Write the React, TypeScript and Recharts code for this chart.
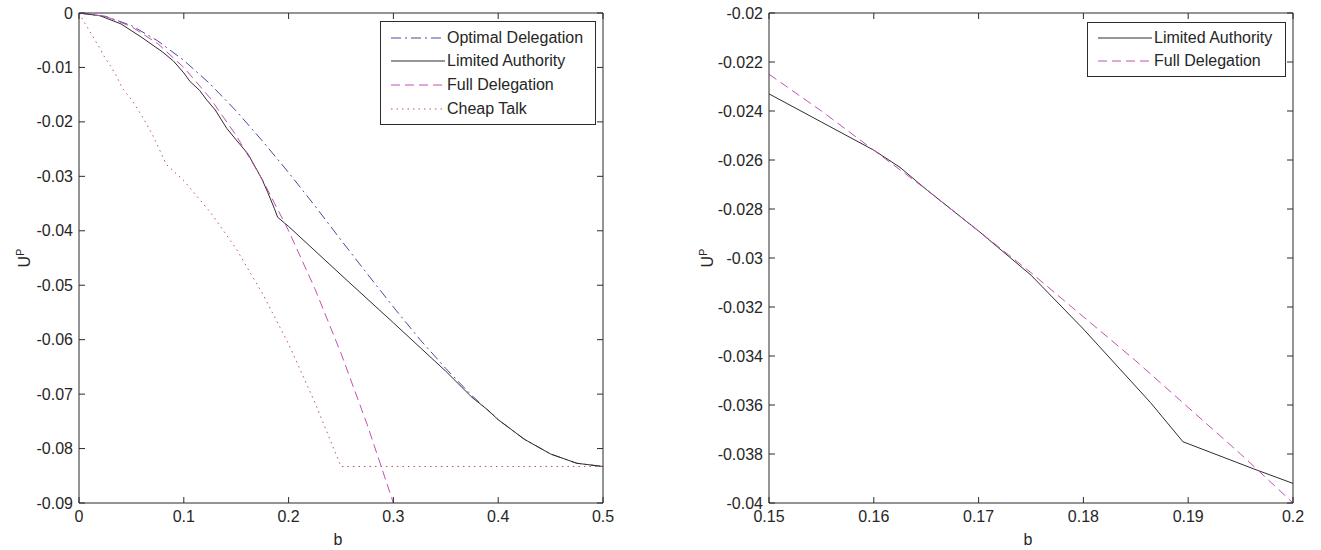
import React from 'react';
import { LineChart, Line, XAxis, YAxis, Legend } from 'recharts';

const FONT = '"Liberation Sans", Arial, Helvetica, sans-serif';
const AXIS = '#2b2b2b';
const TEXT = '#262626';
const TICK = 6;

const BLUE = '#4a4a9c';
const BLACK = '#2e2e2e';
const PINK = '#c54fb4';
const RED = '#c0506f';

// ---- left panel: b in [0, 0.5]
const leftXTicks = [0, 0.1, 0.2, 0.3, 0.4, 0.5];
const leftYTicks = [0, -0.01, -0.02, -0.03, -0.04, -0.05, -0.06, -0.07, -0.08, -0.09];

const optimalB = [0, 0.025, 0.05, 0.075, 0.1, 0.125, 0.15, 0.175, 0.2, 0.225, 0.25, 0.275, 0.3, 0.325, 0.35, 0.375, 0.4, 0.425, 0.45, 0.475, 0.5];
const optimalU = [0, -0.0006, -0.0023, -0.0051, -0.0087, -0.013, -0.018, -0.0235, -0.0293, -0.0354, -0.0417, -0.0479, -0.054, -0.0599, -0.0653, -0.0703, -0.0747, -0.0783, -0.081, -0.0827, -0.0833];

const limitedB = [0, 0.02, 0.04, 0.06, 0.08, 0.09, 0.1, 0.106, 0.115, 0.122, 0.13, 0.141, 0.15, 0.155, 0.16, 0.1625, 0.165, 0.17, 0.175, 0.18, 0.1864, 0.1895, 0.1962, 0.2, 0.25, 0.3, 0.35, 0.375, 0.39, 0.4, 0.425, 0.45, 0.475, 0.5];
const limitedU = [0, -0.0005, -0.002, -0.0045, -0.0072, -0.0088, -0.011, -0.0126, -0.0142, -0.016, -0.0178, -0.0212, -0.0233, -0.02445, -0.0256, -0.0263, -0.0272, -0.0289, -0.0307, -0.0329, -0.0359, -0.0375, -0.0386, -0.0392, -0.0481, -0.0569, -0.0658, -0.0706, -0.0729, -0.0747, -0.0783, -0.081, -0.0827, -0.0833];

const fullB = [0, 0.025, 0.05, 0.075, 0.1, 0.125, 0.15, 0.175, 0.2, 0.225, 0.25, 0.275, 0.3];
const fullU = [0, -0.0006, -0.0025, -0.0056, -0.01, -0.0156, -0.0225, -0.0306, -0.04, -0.0506, -0.0625, -0.0756, -0.09];

const cheapB = [0, 0.005, 0.01, 0.015, 0.02, 0.025, 0.03, 0.035, 0.0417, 0.05, 0.06, 0.07, 0.0833, 0.1, 0.125, 0.15, 0.175, 0.2, 0.225, 0.25, 0.5];
const cheapU = [0, -0.0017, -0.0033, -0.0049, -0.0065, -0.0083, -0.0097, -0.0113, -0.0139, -0.0159, -0.0189, -0.0223, -0.0278, -0.0308, -0.0365, -0.0433, -0.0515, -0.0608, -0.0715, -0.0833, -0.0833];

// ---- right panel: zoom on b in [0.15, 0.2]
const rightXTicks = [0.15, 0.16, 0.17, 0.18, 0.19, 0.2];
const rightYTicks = [-0.02, -0.022, -0.024, -0.026, -0.028, -0.03, -0.032, -0.034, -0.036, -0.038, -0.04];

const zoomLimitedB = [0.15, 0.155, 0.16, 0.1625, 0.165, 0.17, 0.175, 0.18, 0.1864, 0.1895, 0.1962, 0.2];
const zoomLimitedU = [-0.0233, -0.02445, -0.0256, -0.0263, -0.0272, -0.0289, -0.0307, -0.0329, -0.0359, -0.0375, -0.0386, -0.0392];

const zoomFullB = [0.15, 0.155, 0.16, 0.165, 0.17, 0.175, 0.18, 0.185, 0.19, 0.195, 0.2];
const zoomFullU = [-0.0225, -0.024, -0.0256, -0.0272, -0.0289, -0.0306, -0.0324, -0.0342, -0.0361, -0.038, -0.04];

const zip = (b: number[], u: number[]) => b.map((v, i) => ({ b: v, u: u[i] }));

type Series = { name: string; color: string; dash?: string; data: { b: number; u: number }[] };

const leftSeries: Series[] = [
  { name: 'Optimal Delegation', color: BLUE, dash: '10 4 2 4', data: zip(optimalB, optimalU) },
  { name: 'Limited Authority', color: BLACK, data: zip(limitedB, limitedU) },
  { name: 'Full Delegation', color: PINK, dash: '9 5', data: zip(fullB, fullU) },
  { name: 'Cheap Talk', color: RED, dash: '1.5 4', data: zip(cheapB, cheapU) },
];

const rightSeries: Series[] = [
  { name: 'Limited Authority', color: BLACK, data: zip(zoomLimitedB, zoomLimitedU) },
  { name: 'Full Delegation', color: PINK, dash: '9 5', data: zip(zoomFullB, zoomFullU) },
];

const label = (v: number) => String(v);

// axes are 1px boxes; ticks are drawn inward like a MATLAB box
const BottomTick = ({ x, y, payload }: any) => (
  <g>
    <line x1={x} x2={x} y1={y} y2={y - TICK} stroke={AXIS} />
    <text x={x} y={y + 19} textAnchor="middle" fontSize={16} fontFamily={FONT} fill={TEXT}>
      {label(payload.value)}
    </text>
  </g>
);

const LeftTick = ({ x, y, payload }: any) => (
  <g>
    <line x1={x} x2={x + TICK} y1={y} y2={y} stroke={AXIS} />
    <text x={x - 6} y={y + 5.5} textAnchor="end" fontSize={16} fontFamily={FONT} fill={TEXT}>
      {label(payload.value)}
    </text>
  </g>
);

const TopTick = ({ x, y }: any) => <line x1={x} x2={x} y1={y} y2={y + TICK} stroke={AXIS} />;
const RightTick = ({ x, y }: any) => <line x1={x} x2={x - TICK} y1={y} y2={y} stroke={AXIS} />;

const XLabel = ({ viewBox }: any) => (
  <text x={viewBox.x + viewBox.width / 2 - 3} y={viewBox.y + 42} textAnchor="middle" fontSize={16} fontFamily={FONT} fill={TEXT}>
    b
  </text>
);

const YLabel = ({ viewBox, dx }: any) => {
  const cx = viewBox.x - dx;
  const cy = viewBox.y + viewBox.height / 2;
  return (
    <text x={cx} y={cy} transform={`rotate(-90, ${cx}, ${cy})`} textAnchor="middle" fontSize={16} fontFamily={FONT} fill={TEXT}>
      U<tspan dy={-6} fontSize={11}>P</tspan>
    </text>
  );
};

const LegendBox = ({ items, width, top, row }: { items: Series[]; width: number; top: number; row: number }) => (
  <div
    style={{
      width,
      boxSizing: 'border-box',
      border: `1px solid ${AXIS}`,
      background: '#fff',
      paddingTop: top,
      paddingBottom: top,
      fontFamily: FONT,
      fontSize: 16,
      color: TEXT,
    }}
  >
    {items.map((s) => (
      <div key={s.name} style={{ display: 'flex', alignItems: 'center', height: row, whiteSpace: 'nowrap' }}>
        <svg width={66} height={10} style={{ flex: 'none' }}>
          <line x1={10} x2={64} y1={5} y2={5} stroke={s.color} strokeWidth={1} strokeDasharray={s.dash} />
        </svg>
        <span>{s.name}</span>
      </div>
    ))}
  </div>
);

type PanelProps = {
  width: number;
  margin: { top: number; right: number; bottom: number; left: number };
  xDomain: [number, number];
  yDomain: [number, number];
  xTicks: number[];
  yTicks: number[];
  series: Series[];
  legendPos: { left: number; top: number; width: number; pad: number; row: number };
  yLabelDx: number;
};

const Panel = ({ width, margin, xDomain, yDomain, xTicks, yTicks, series, legendPos, yLabelDx }: PanelProps) => (
  <LineChart width={width} height={550} margin={margin}>
    <XAxis
      xAxisId={0}
      dataKey="b"
      type="number"
      domain={xDomain}
      ticks={xTicks}
      interval={0}
      height={1}
      tickSize={0}
      tickMargin={0}
      tickLine={false}
      axisLine={{ stroke: AXIS }}
      tick={(p: any) => <BottomTick {...p} />}
      allowDataOverflow
      label={{ content: (p: any) => <XLabel {...p} /> }}
    />
    <XAxis
      xAxisId="top"
      orientation="top"
      dataKey="b"
      type="number"
      domain={xDomain}
      ticks={xTicks}
      interval={0}
      height={1}
      tickSize={0}
      tickMargin={0}
      tickLine={false}
      axisLine={{ stroke: AXIS }}
      tick={(p: any) => <TopTick {...p} />}
      allowDataOverflow
    />
    <YAxis
      yAxisId={0}
      type="number"
      domain={yDomain}
      ticks={yTicks}
      interval={0}
      width={1}
      tickSize={0}
      tickMargin={0}
      tickLine={false}
      axisLine={{ stroke: AXIS }}
      tick={(p: any) => <LeftTick {...p} />}
      allowDataOverflow
      label={{ content: (p: any) => <YLabel {...p} dx={yLabelDx} /> }}
    />
    <YAxis
      yAxisId="right"
      orientation="right"
      type="number"
      domain={yDomain}
      ticks={yTicks}
      interval={0}
      width={1}
      tickSize={0}
      tickMargin={0}
      tickLine={false}
      axisLine={{ stroke: AXIS }}
      tick={(p: any) => <RightTick {...p} />}
      allowDataOverflow
    />
    {series.map((s) => (
      <Line
        key={s.name}
        xAxisId={0}
        yAxisId={0}
        data={s.data}
        dataKey="u"
        name={s.name}
        type="linear"
        stroke={s.color}
        strokeWidth={1}
        strokeDasharray={s.dash}
        dot={false}
        activeDot={false}
        isAnimationActive={false}
      />
    ))}
    <Legend
      layout="vertical"
      align="center"
      verticalAlign="middle"
      wrapperStyle={{ left: legendPos.left, top: legendPos.top, width: legendPos.width }}
      content={() => <LegendBox items={series} width={legendPos.width} top={legendPos.pad} row={legendPos.row} />}
    />
  </LineChart>
);

export default function App() {
  return (
    <div style={{ position: 'absolute', left: 0, top: 0, width: 1321, height: 550, background: '#fff' }}>
      <div style={{ position: 'absolute', left: 0, top: 0 }}>
        <Panel
          width={660}
          margin={{ top: 12, right: 56, bottom: 46, left: 78 }}
          xDomain={[0, 0.5]}
          yDomain={[-0.09, 0]}
          xTicks={leftXTicks}
          yTicks={leftYTicks}
          series={leftSeries}
          legendPos={{ left: 380, top: 21, width: 216, pad: 4, row: 23.6 }}
          yLabelDx={48}
        />
      </div>
      <div style={{ position: 'absolute', left: 660, top: 0 }}>
        <Panel
          width={661}
          margin={{ top: 12, right: 27, bottom: 46, left: 108 }}
          xDomain={[0.15, 0.2]}
          yDomain={[-0.04, -0.02]}
          xTicks={rightXTicks}
          yTicks={rightYTicks}
          series={rightSeries}
          legendPos={{ left: 427, top: 22, width: 199, pad: 3, row: 23.5 }}
          yLabelDx={55}
        />
      </div>
    </div>
  );
}
